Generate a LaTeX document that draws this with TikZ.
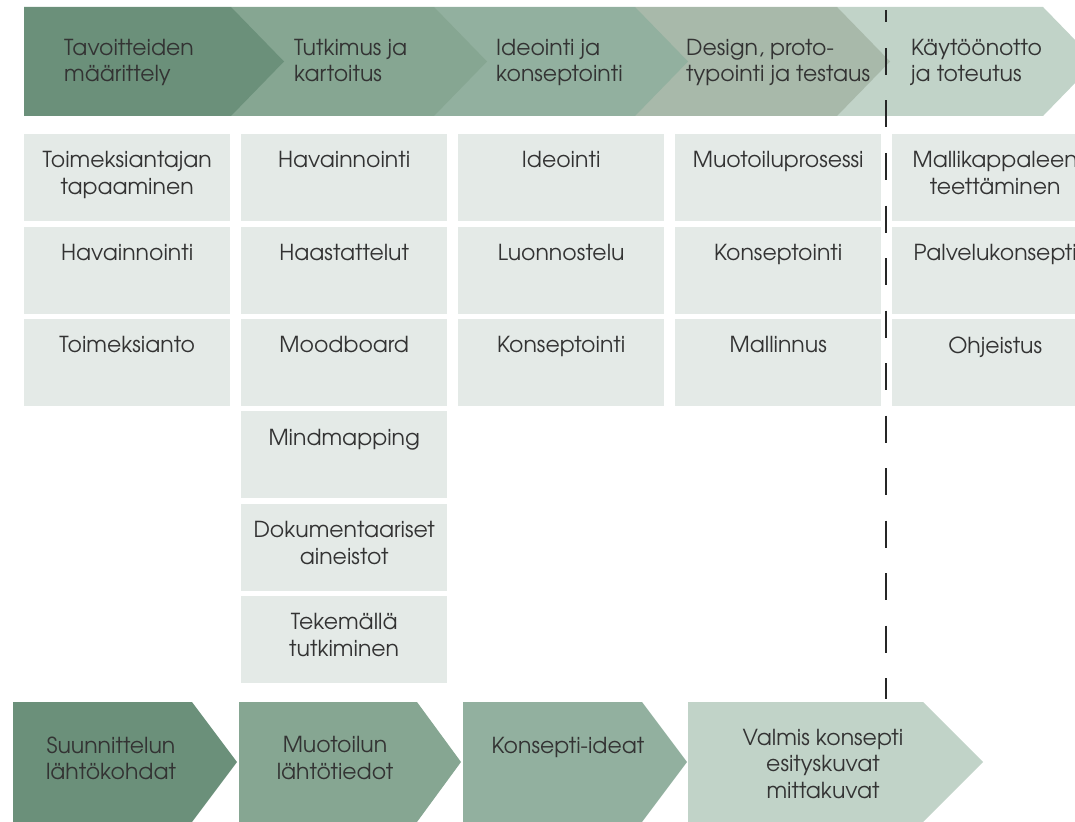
\documentclass[tikz,border=0pt]{standalone}
\usepackage{fontspec}
\setmainfont{TeX Gyre Adventor}

\definecolor{phaseA}{HTML}{6B907A}
\definecolor{phaseB}{HTML}{86A692}
\definecolor{phaseC}{HTML}{92B09F}
\definecolor{phaseD}{HTML}{A8B9AA}
\definecolor{phaseE}{HTML}{C1D3C8}
\definecolor{taskbg}{HTML}{E4EAE7}
\definecolor{ink}{HTML}{333333}

\begin{document}
\begin{tikzpicture}[x=1pt,y=-1pt]

\def\colspace{217}
\def\rowspace{92.4}
\def\toprow{134}

\tikzstyle{task}=[rectangle,fill=taskbg,minimum width=206pt,minimum height=87pt,inner sep=0pt,anchor=north west]
\tikzstyle{words}=[anchor=north,align=center,inner sep=0pt,text=ink,font=\fontsize{22}{26.5}\selectfont]
\tikzstyle{tasktext}=[words,yshift=-17.5pt]
\tikzstyle{phasetext}=[words,anchor=north west,align=left]
\tikzstyle{resulttext}=[words]
\tikzstyle{cutline}=[line width=2pt,black!85,dash pattern=on 27pt off 25.5pt,dash phase=14.5pt]

\useasboundingbox (0,0) rectangle (1075,821);
\clip (0,0) rectangle (1075,821);

%phases
\fill[phaseE] (837,7) -- (1043,7) -- (1096,61.5) -- (1043,116) -- (837,116) -- cycle;
\fill[phaseD] (635,7) -- (837,7) -- (890,61.5) -- (837,116) -- (635,116) -- cycle;
\fill[phaseC] (434,7) -- (635,7) -- (688,61.5) -- (635,116) -- (434,116) -- cycle;
\fill[phaseB] (231,7) -- (434,7) -- (487,61.5) -- (434,116) -- (231,116) -- cycle;
\fill[phaseA] (24,7) -- (231,7) -- (284,61.5) -- (231,116) -- (24,116) -- cycle;

\node[phasetext] (p1) at (64,39) {Tavoitteiden\\määrittely};
\node[phasetext] (p2) at (294,39) {Tutkimus ja\\kartoitus};
\node[phasetext] (p3) at (496,39) {Ideointi ja\\konseptointi};
\node[phasetext] (p4) at (686,39) {Design, proto-\\typointi ja testaus};
\node[phasetext] (p5) at (911,39) {Käytöönotto\\ja toteutus};

%goals
\node[task] (g1) at (24,\toprow) {};
\node[tasktext] (g1t) at (g1.north) {Toimeksiantajan\\tapaaminen};
\node[task] (g2) at (24,\toprow+1*\rowspace) {};
\node[tasktext] (g2t) at (g2.north) {Havainnointi};
\node[task] (g3) at (24,\toprow+2*\rowspace) {};
\node[tasktext] (g3t) at (g3.north) {Toimeksianto};

%research
\node[task] (r1) at (24+1*\colspace,\toprow) {};
\node[tasktext] (r1t) at (r1.north) {Havainnointi};
\node[task] (r2) at (24+1*\colspace,\toprow+1*\rowspace) {};
\node[tasktext] (r2t) at (r2.north) {Haastattelut};
\node[task] (r3) at (24+1*\colspace,\toprow+2*\rowspace) {};
\node[tasktext] (r3t) at (r3.north) {Moodboard};
\node[task] (r4) at (24+1*\colspace,\toprow+3*\rowspace) {};
\node[tasktext] (r4t) at (r4.north) {Mindmapping};
\node[task] (r5) at (24+1*\colspace,\toprow+4*\rowspace) {};
\node[tasktext] (r5t) at (r5.north) {Dokumentaariset\\aineistot};
\node[task] (r6) at (24+1*\colspace,\toprow+5*\rowspace) {};
\node[tasktext] (r6t) at (r6.north) {Tekemällä\\tutkiminen};

%ideation
\node[task] (i1) at (24+2*\colspace,\toprow) {};
\node[tasktext] (i1t) at (i1.north) {Ideointi};
\node[task] (i2) at (24+2*\colspace,\toprow+1*\rowspace) {};
\node[tasktext] (i2t) at (i2.north) {Luonnostelu};
\node[task] (i3) at (24+2*\colspace,\toprow+2*\rowspace) {};
\node[tasktext] (i3t) at (i3.north) {Konseptointi};

%design
\node[task] (d1) at (24+3*\colspace,\toprow) {};
\node[tasktext] (d1t) at (d1.north) {Muotoiluprosessi};
\node[task] (d2) at (24+3*\colspace,\toprow+1*\rowspace) {};
\node[tasktext] (d2t) at (d2.north) {Konseptointi};
\node[task] (d3) at (24+3*\colspace,\toprow+2*\rowspace) {};
\node[tasktext] (d3t) at (d3.north) {Mallinnus};

%implementation
\node[task] (k1) at (24+4*\colspace,\toprow) {};
\node[tasktext] (k1t) at (k1.north) {Mallikappaleen\\teettäminen};
\node[task] (k2) at (24+4*\colspace,\toprow+1*\rowspace) {};
\node[tasktext] (k2t) at (k2.north) {Palvelukonsepti};
\node[task] (k3) at (24+4*\colspace,\toprow+2*\rowspace) {};
\node[tasktext] (k3t) at (k3.north) {Ohjeistus};

%results
\fill[phaseA] (13,702) -- (192,702) -- (237,762) -- (192,822) -- (13,822) -- cycle;
\fill[phaseB] (239,702) -- (417,702) -- (461,762) -- (417,822) -- (239,822) -- cycle;
\fill[phaseC] (463,702) -- (642,702) -- (687,762) -- (642,822) -- (463,822) -- cycle;
\fill[phaseE] (688,702) -- (923,702) -- (983,762) -- (923,822) -- (688,822) -- cycle;

\node[resulttext] (o1) at (111,736.5) {Suunnittelun\\lähtökohdat};
\node[resulttext] (o2) at (335,736.5) {Muotoilun\\lähtötiedot};
\node[resulttext] (o3) at (568,737.5) {Konsepti-ideat};
\node[resulttext] (o4) at (823,729) {Valmis konsepti\\esityskuvat\\mittakuvat};

%cut
\coordinate (cuttop) at (886,10);
\coordinate (cutbot) at (886,699);
\draw[cutline] (cuttop) -- (cutbot);

\end{tikzpicture}
\end{document}
